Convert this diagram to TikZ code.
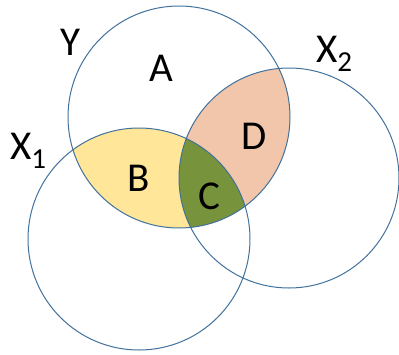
\documentclass[tikz,border=0pt]{standalone}
\usepackage{fontspec}
\setmainfont{Carlito}
\definecolor{edge}{HTML}{41719C}
\definecolor{fillB}{HTML}{FFE699}
\definecolor{fillD}{HTML}{F2C6AB}
\definecolor{fillC}{HTML}{77933C}
\tikzset{
  setcircle/.style={circle, draw=edge, line width=1pt, inner sep=0pt},
  lab/.style={inner sep=0pt, font=\fontsize{41}{41}\selectfont},
}
\newcommand{\subnum}[1]{\raisebox{-9pt}{\fontsize{29}{29}\selectfont #1}}
\begin{document}
\begin{tikzpicture}[x=1pt,y=-1pt]
\useasboundingbox (0,0) rectangle (399,354);
% fills
\begin{scope}
  \clip (179,117) circle[radius=111];
  \fill[fillB] (139,239) circle[radius=111];
  \fill[fillD] (289,178) circle[radius=110];
  \clip (139,239) circle[radius=111];
  \fill[fillC] (289,178) circle[radius=110];
\end{scope}
% circles
\node[setcircle, minimum size=222pt] (Y) at (179,117) {};
\node[setcircle, minimum size=222pt] (X1) at (139,239) {};
\node[setcircle, minimum size=220pt] (X2) at (289,178) {};
% labels
\node[lab] (lY) at (70,42) {Y};
\node[lab] (lA) at (161,68) {A};
\node[lab, anchor=base west] (lX1) at (10,159) {X\subnum{1}};
\node[lab, anchor=base west] (lX2) at (316,62) {X\subnum{2}};
\node[lab] (lB) at (139,178) {B};
\node[lab] (lC) at (209,196) {C};
\node[lab] (lD) at (254,136) {D};
\end{tikzpicture}
\end{document}
